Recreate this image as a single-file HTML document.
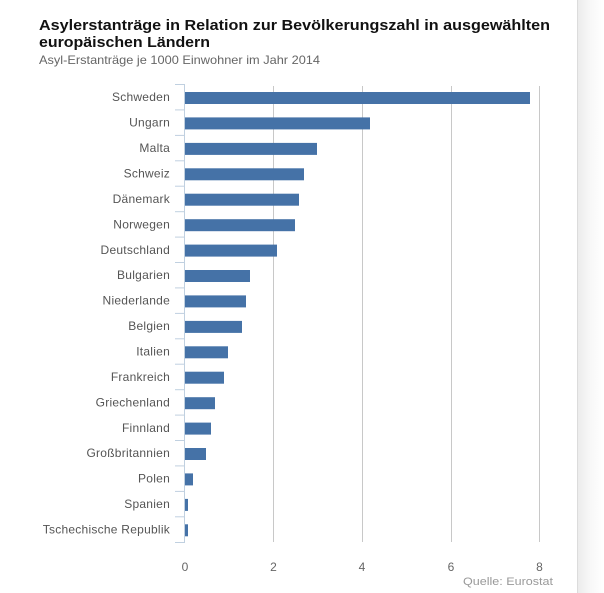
<!DOCTYPE html>
<html><head><meta charset="utf-8"><style>
html,body{margin:0;padding:0;background:#fff;}
svg{display:block;}
text{font-family:"Liberation Sans",Arial,sans-serif;}
</style></head><body>
<svg width="604" height="593" viewBox="0 0 604 593" xmlns="http://www.w3.org/2000/svg">
<defs>
<linearGradient id="sh" x1="0" x2="1" y1="0" y2="0">
<stop offset="0" stop-color="#ececec"/><stop offset="0.5" stop-color="#f8f8f8"/><stop offset="1" stop-color="#ffffff"/>
</linearGradient>
</defs>
<rect x="0" y="0" width="604" height="593" fill="#fff"/>
<rect x="578" y="0" width="26" height="593" fill="url(#sh)"/>
<line x1="577.5" y1="0" x2="577.5" y2="593" stroke="#dcdcdc" stroke-width="1"/>

<text x="39" y="30" font-size="15" font-weight="bold" fill="#111" textLength="511" lengthAdjust="spacingAndGlyphs">Asylerstanträge in Relation zur Bevölkerungszahl in ausgewählten</text>
<text x="39" y="47" font-size="15" font-weight="bold" fill="#111" textLength="171" lengthAdjust="spacingAndGlyphs">europäischen Ländern</text>
<text x="39" y="64" font-size="12" fill="#666" textLength="281" lengthAdjust="spacingAndGlyphs">Asyl-Erstanträge je 1000 Einwohner im Jahr 2014</text>

<g stroke="#c8c8c8" stroke-width="1">
<line x1="273.5" y1="86" x2="273.5" y2="542"/>
<line x1="362.5" y1="86" x2="362.5" y2="542"/>
<line x1="451.5" y1="86" x2="451.5" y2="542"/>
<line x1="539.5" y1="86" x2="539.5" y2="542"/>
</g>

<g fill="#4572a7">
<rect x="185" y="92" width="345" height="12"/>
<rect x="185" y="117.4" width="185" height="12"/>
<rect x="185" y="142.9" width="132" height="12"/>
<rect x="185" y="168.3" width="119" height="12"/>
<rect x="185" y="193.7" width="114" height="12"/>
<rect x="185" y="219.2" width="110" height="12"/>
<rect x="185" y="244.6" width="92" height="12"/>
<rect x="185" y="270" width="65" height="12"/>
<rect x="185" y="295.4" width="61" height="12"/>
<rect x="185" y="320.9" width="57" height="12"/>
<rect x="185" y="346.3" width="43" height="12"/>
<rect x="185" y="371.7" width="39" height="12"/>
<rect x="185" y="397.2" width="30" height="12"/>
<rect x="185" y="422.6" width="26" height="12"/>
<rect x="185" y="448" width="21" height="12"/>
<rect x="185" y="473.4" width="8" height="12"/>
<rect x="185" y="498.9" width="3" height="12"/>
<rect x="185" y="524.3" width="3" height="12"/>
</g>

<g stroke="#c0d0e0" stroke-width="1">
<line x1="184.5" y1="84" x2="184.5" y2="543"/>
<line x1="175" y1="84.5" x2="184.5" y2="84.5"/>
<line x1="175" y1="109.9" x2="184.5" y2="109.9"/>
<line x1="175" y1="135.4" x2="184.5" y2="135.4"/>
<line x1="175" y1="160.8" x2="184.5" y2="160.8"/>
<line x1="175" y1="186.2" x2="184.5" y2="186.2"/>
<line x1="175" y1="211.7" x2="184.5" y2="211.7"/>
<line x1="175" y1="237.1" x2="184.5" y2="237.1"/>
<line x1="175" y1="262.5" x2="184.5" y2="262.5"/>
<line x1="175" y1="287.9" x2="184.5" y2="287.9"/>
<line x1="175" y1="313.4" x2="184.5" y2="313.4"/>
<line x1="175" y1="338.8" x2="184.5" y2="338.8"/>
<line x1="175" y1="364.2" x2="184.5" y2="364.2"/>
<line x1="175" y1="389.7" x2="184.5" y2="389.7"/>
<line x1="175" y1="415.1" x2="184.5" y2="415.1"/>
<line x1="175" y1="440.5" x2="184.5" y2="440.5"/>
<line x1="175" y1="465.9" x2="184.5" y2="465.9"/>
<line x1="175" y1="491.4" x2="184.5" y2="491.4"/>
<line x1="175" y1="516.8" x2="184.5" y2="516.8"/>
<line x1="175" y1="542.5" x2="184.5" y2="542.5"/>
</g>

<g font-size="12" fill="#555" text-anchor="end" letter-spacing="0.25">
<text x="170" y="101.2">Schweden</text>
<text x="170" y="126.6">Ungarn</text>
<text x="170" y="152.1">Malta</text>
<text x="170" y="177.5">Schweiz</text>
<text x="170" y="202.9">Dänemark</text>
<text x="170" y="228.4">Norwegen</text>
<text x="170" y="253.8">Deutschland</text>
<text x="170" y="279.2">Bulgarien</text>
<text x="170" y="304.6">Niederlande</text>
<text x="170" y="330.1">Belgien</text>
<text x="170" y="355.5">Italien</text>
<text x="170" y="380.9">Frankreich</text>
<text x="170" y="406.4">Griechenland</text>
<text x="170" y="431.8">Finnland</text>
<text x="170" y="457.2">Großbritannien</text>
<text x="170" y="482.6">Polen</text>
<text x="170" y="508.1">Spanien</text>
<text x="170" y="533.5">Tschechische Republik</text>
</g>

<g font-size="12" fill="#666" text-anchor="middle">
<text x="185" y="571">0</text>
<text x="273.5" y="571">2</text>
<text x="362" y="571">4</text>
<text x="451" y="571">6</text>
<text x="539.5" y="571">8</text>
</g>

<text x="463" y="585" font-size="11" fill="#999" textLength="90" lengthAdjust="spacingAndGlyphs">Quelle: Eurostat</text>
</svg>
</body></html>
